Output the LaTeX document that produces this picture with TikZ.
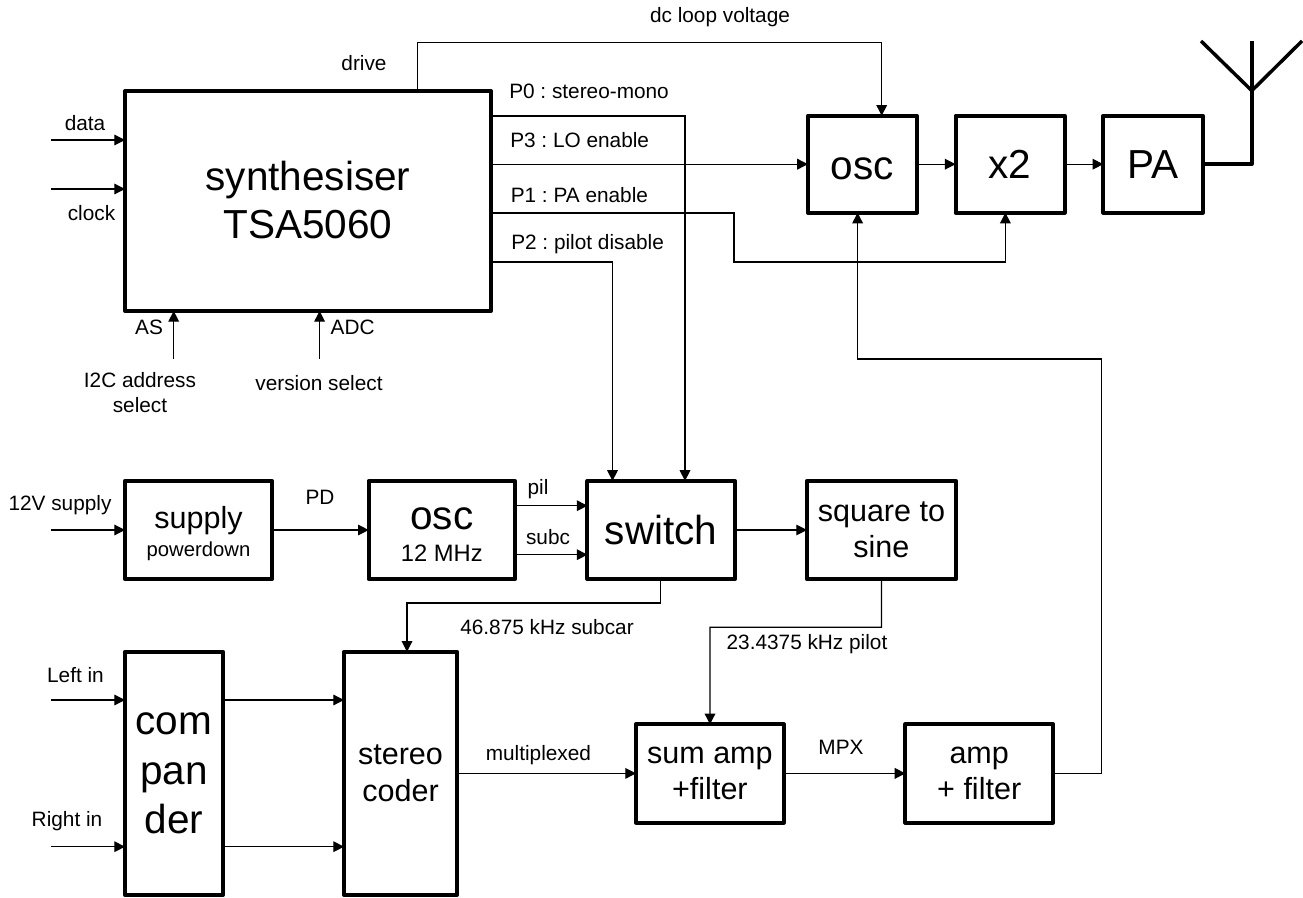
\documentclass[tikz,border=0pt]{standalone}
\usepackage{fontspec}
\setmainfont{Liberation Sans}
\usetikzlibrary{arrows.meta,positioning}
\frenchspacing
\newcommand{\bigtxt}{\fontsize{30.4}{36}\selectfont}
\newcommand{\midtxt}{\fontsize{22.9}{27.4}\selectfont}
\newcommand{\smalltxt}{\fontsize{15.6}{18.6}\selectfont}
\begin{document}
\begin{tikzpicture}[x=0.75pt,y=-0.75pt,
      blk/.style={draw,line width=3pt,line join=round,align=center,inner sep=0pt,outer sep=0pt,font=\midtxt},
      bigblk/.style={blk,font=\bigtxt},
      rowblk/.style={minimum height=73.7pt},
      lbl/.style={font=\smalltxt,align=center,inner sep=0pt},
      wire/.style={line width=0.9pt},
      aerial/.style={line width=2.6pt,line join=round},
      >={Triangle[length=8pt,width=8pt]}]
    \useasboundingbox (0,0) rectangle (1303,898);
    % top row
    \node[bigblk,minimum width=274.5pt,minimum height=165pt] (synth) at (308,201) {\raisebox{2pt}{synthesiser}\\\raisebox{2pt}{TSA5060}};
    \node[bigblk,minimum width=81.75pt,minimum height=72.75pt] (osc) at (862.4,164.2) {\rule{0pt}{23.5pt}osc};
    \node[bigblk,minimum width=81.75pt,minimum height=72.75pt,right=29pt of osc] (dbl) {x2};
    \node[bigblk,minimum width=74.6pt,minimum height=72.75pt,right=29pt of dbl] (pa) {PA};
    % middle row
    \node[blk,rowblk,minimum width=110.25pt] (supply) at (198.5,530) {\rule{0pt}{22pt}supply\\[-6pt]{\fontsize{15.2}{18}\selectfont powerdown}};
    \node[bigblk,rowblk,minimum width=109.7pt,right=72.5pt of supply] (xtal) {\rule{0pt}{23.5pt}osc\\[-12pt]{\fontsize{17.8}{20}\selectfont 12 MHz}};
    \node[bigblk,rowblk,minimum width=110.6pt,right=54.4pt of xtal] (switch) {switch};
    \node[blk,rowblk,minimum width=111.75pt,right=54pt of switch] (sq) {square to\\sine};
    % bottom row
    \node[bigblk,minimum width=73.5pt,minimum height=182.5pt,font=\fontsize{30.4}{37}\selectfont] (comp) at (174,773.4) {com\\pan\\der};
    \node[blk,minimum width=84.75pt,minimum height=182.5pt,right=90.75pt of comp] (coder) {stereo\\coder};
    \node[blk,rowblk,minimum width=110.85pt,right=134.25pt of coder] (sum) {sum amp\\+filter};
    \node[blk,rowblk,minimum width=110.7pt,right=91.2pt of sum] (amp) {amp\\+ filter};
    % free ends and rails
    \coordinate (indata) at (51,140);
    \coordinate (inclk) at (51,189);
    \coordinate (inas) at (173.7,359);
    \coordinate (inadc) at (319.6,359);
    \coordinate (in12v) at (51,530);
    \coordinate (inleft) at (51,700);
    \coordinate (inright) at (51,846.7);
    \coordinate (railP0) at (685,116);
    \coordinate (railP3) at (0,164.2);
    \coordinate (railP1) at (734,213);
    \coordinate (railP1b) at (1005.4,262);
    \coordinate (railP2) at (612.5,262);
    \coordinate (railDC) at (417.4,42.3);
    \coordinate (railDCb) at (881.7,42.3);
    \coordinate (railFB) at (1101.8,359);
    \coordinate (railFBb) at (857.6,359);
    \coordinate (railSub) at (660.7,603);
    \coordinate (railSubb) at (407,603);
    \coordinate (railPil) at (881.5,627.3);
    \coordinate (railPilb) at (710,627.3);
    \coordinate (pil) at (0,505.7);
    \coordinate (subc) at (0,554.7);
    \coordinate (lft) at (0,700);
    \coordinate (rgt) at (0,846.7);
    \coordinate (antfoot) at (1251.8,90.7);
    \coordinate (antl) at (1201,41);
    \coordinate (antm) at (1251.8,41);
    \coordinate (antr) at (1302,41);
    % connectors
    \draw[->,wire] (indata) -- (synth.west |- indata);
    \draw[->,wire] (inclk) -- (synth.west |- inclk);
    \draw[->,wire] (inas) -- (synth.south -| inas);
    \draw[->,wire] (inadc) -- (synth.south -| inadc);
    \draw[->,wire] (synth.north -| railDC) -- (railDC) -- (railDCb) -- (osc.north -| railDCb);
    \draw[->,wire] (synth.east |- railP0) -- (railP0) -- (switch.north -| railP0);
    \draw[->,wire] (synth.east |- railP3) -- (osc.west);
    \draw[->,wire] (synth.east |- railP1) -- (railP1) |- (railP1b) -- (dbl.south -| railP1b);
    \draw[->,wire] (synth.east |- railP2) -- (railP2) -- (switch.north -| railP2);
    \draw[->,wire] (osc) -- (dbl);
    \draw[->,wire] (dbl) -- (pa);
    \draw[aerial] (pa.east) -| (antfoot);
    \draw[aerial] (antl) -- (antfoot) -- (antr);
    \draw[aerial] (antm) -- (antfoot);
    \draw[->,wire] (in12v) -- (supply.west);
    \draw[->,wire] (supply) -- (xtal);
    \draw[->,wire] (xtal.east |- pil) -- (switch.west |- pil);
    \draw[->,wire] (xtal.east |- subc) -- (switch.west |- subc);
    \draw[->,wire] (switch) -- (sq);
    \draw[->,wire] (switch.south -| railSub) -- (railSub) -- (railSubb) -- (coder.north -| railSubb);
    \draw[->,wire] (sq.south) -- (railPil) -- (railPilb) -- (sum.north -| railPilb);
    \draw[->,wire] (inleft) -- (comp.west |- inleft);
    \draw[->,wire] (inright) -- (comp.west |- inright);
    \draw[->,wire] (comp.east |- lft) -- (coder.west |- lft);
    \draw[->,wire] (comp.east |- rgt) -- (coder.west |- rgt);
    \draw[->,wire] (coder) -- (sum);
    \draw[->,wire] (sum) -- (amp);
    \draw[->,wire] (amp.east) -| (railFB) -- (railFBb) -- (osc.south -| railFBb);
    % labels
    \node[lbl] (tdc) at (720,17) {dc loop voltage};
    \node[lbl] (tdrive) at (364,63) {drive};
    \node[lbl] (tdata) at (85,122.7) {data};
    \node[lbl] (tclk) at (91.5,213) {clock};
    \node[lbl,anchor=west] (tP0) at (509,91) {P0 : stereo-mono};
    \node[lbl,anchor=west] (tP3) at (510,140) {P3 : LO enable};
    \node[lbl,anchor=west] (tP1) at (510.5,195) {P1 : PA enable};
    \node[lbl,anchor=west] (tP2) at (511,244) {P2 : pilot disable};
    \node[lbl] (tas) at (149,327) {AS};
    \node[lbl] (tadc) at (352.7,327) {ADC};
    \node[lbl,anchor=north] (ti2c) at (140,372) {I2C address\\select};
    \node[lbl] (tver) at (319,383) {version select};
    \node[lbl] (t12v) at (60,505) {12V supply};
    \node[lbl] (tpd) at (320,497.7) {PD};
    \node[lbl] (tpil) at (538,489) {pil};
    \node[lbl] (tsubc) at (548,536.7) {subc};
    \node[lbl] (tsub) at (547,627) {46.875 kHz subcar};
    \node[lbl] (tpilot) at (807,644) {23.4375 kHz pilot};
    \node[lbl] (tleft) at (75.5,675) {Left in};
    \node[lbl] (tright) at (67,821) {Right in};
    \node[lbl] (tmux) at (538.4,755) {multiplexed};
    \node[lbl] (tmpx) at (841,747.7) {MPX};
  \end{tikzpicture}
\end{document}
